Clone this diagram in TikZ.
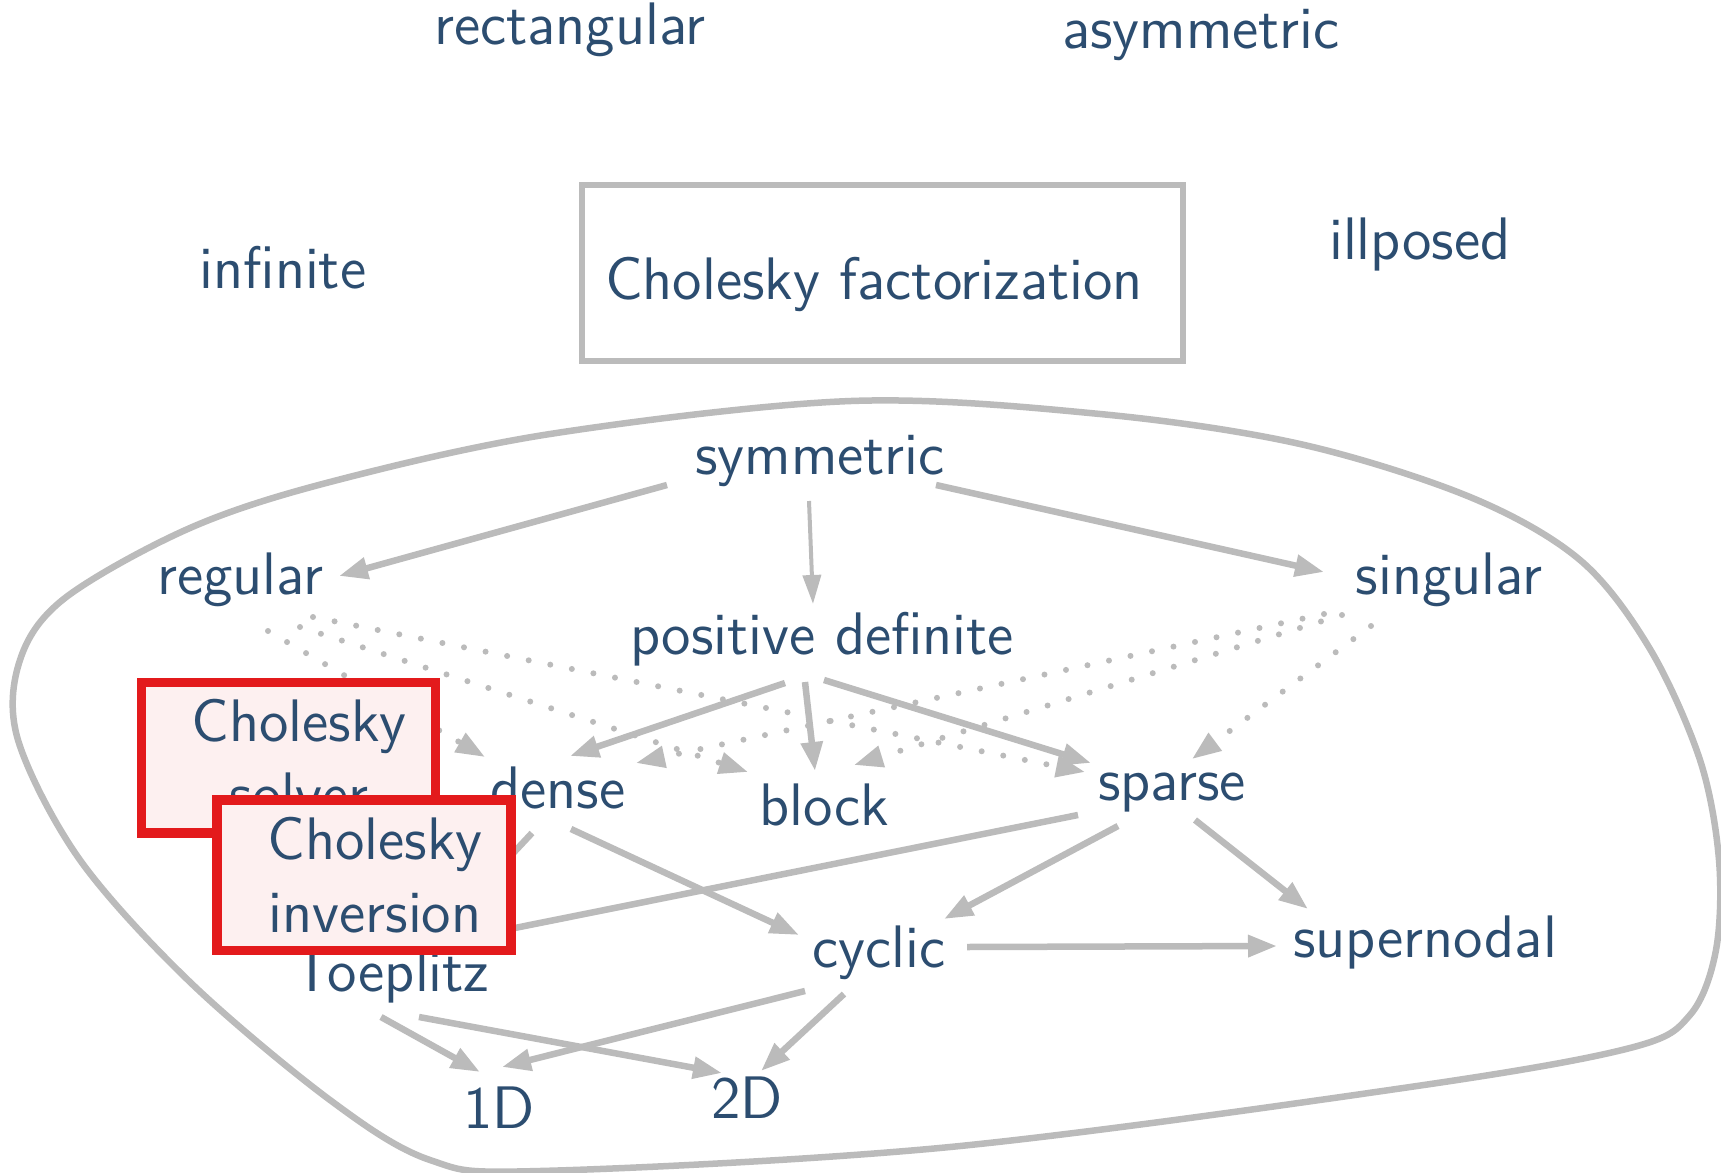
\documentclass[tikz,border=0pt]{standalone}
\usetikzlibrary{arrows.meta}
\definecolor{txt}{HTML}{2C4D70}
\definecolor{edgegray}{HTML}{BBBBBB}
\definecolor{boxred}{HTML}{E31A1C}
\definecolor{boxfill}{HTML}{FDF0F0}
\begin{document}
\begin{tikzpicture}[x=0.2pt,y=-0.2pt,
  lbl/.style={font=\sffamily\fontsize{12}{14.6}\selectfont, text=txt, inner sep=0pt, anchor=base},
  edge/.style={draw=edgegray, line width=1.3pt, -{Triangle[length=5.8pt,width=4.2pt]}},
  thinedge/.style={draw=edgegray, line width=0.8pt, -{Triangle[length=5.8pt,width=3.6pt]}},
  dotedge/.style={draw=edgegray, line width=1.2pt, line cap=round, dash pattern=on 0pt off 4.4pt, -{Triangle[length=5.8pt,width=4.2pt]}},
  redbox/.style={draw=boxred, fill=boxfill, line width=1.9pt, minimum width=58.8pt, minimum height=30.1pt, inner sep=0pt},
  graybox/.style={draw=edgegray, line width=1.2pt, minimum width=120.2pt, minimum height=35.2pt, inner sep=0pt},
]
\useasboundingbox (0,0) rectangle (1721,1173);
% enclosing blob
\draw[edgegray, line width=1.3pt] plot[smooth cycle, tension=0.55] coordinates {
 (851,401) (1100,414) (1300,444) (1470,497) (1580,560) (1650,649) (1700,760)
 (1719,860) (1716,950) (1690,1015) (1630,1048) (1417,1086) (950,1147) (540,1171)
 (430,1160) (330,1100) (191,983) (80,860) (18,740) (20,660) (65,598) (190,528)
 (330,482) (550,434)};
% labels
\node[lbl] (rect) at (570,45) {rectangular};
\node[lbl] (asym) at (1201,49) {asymmetric};
\node[lbl] (inf) at (283,288) {infinite};
\node[lbl] (ill) at (1420,259) {illposed};
\node[graybox] (factbox) at (882.5,273) {};
\node[lbl] (fact) at (874,299) {Cholesky factorization};
\node[lbl] (sym) at (820,474) {symmetric};
\node[lbl] (reg) at (240,594) {regular};
\node[lbl] (sing) at (1449,594) {singular};
\node[lbl] (pd) at (822,654) {positive definite};
\node[lbl] (dense) at (558,808) {dense};
\node[lbl] (block) at (824,825) {block};
\node[lbl] (sparse) at (1172,800) {sparse};
\node[lbl] (cyclic) at (879,967) {cyclic};
\node[lbl] (supern) at (1425,957) {supernodal};
\node[lbl] (toep) at (391,991) {Toeplitz};
\node[lbl] (oneD) at (499,1128) {1D};
\node[lbl] (twoD) at (747,1118) {2D};
% solid edges
\draw[edge] ([shift={(-153,11)}]sym.base) -- ([shift={(99,-18)}]reg.base);
\draw[thinedge] ([shift={(-11,27)}]sym.base) -- ([shift={(-9,-50)}]pd.base);
\draw[edge] ([shift={(116,11)}]sym.base) -- ([shift={(-125,-22)}]sing.base);
\draw[edge] ([shift={(-37,29)}]pd.base) -- ([shift={(12,-52)}]dense.base);
\draw[edge] ([shift={(-17,28)}]pd.base) -- ([shift={(-9,-54)}]block.base);
\draw[edge] ([shift={(2,26)}]pd.base) -- ([shift={(-81,-37)}]sparse.base);
\draw[edge] ([shift={(13,21)}]dense.base) -- ([shift={(-80,-32)}]cyclic.base);
\draw[edge] ([shift={(-26,25)}]dense.base) -- ([shift={(40,-50)}]toep.base);
\draw[edge] ([shift={(-94,15)}]sparse.base) -- ([shift={(64,-51)}]toep.base);
\draw[edge] ([shift={(-54,26)}]sparse.base) -- ([shift={(65,-48)}]cyclic.base);
\draw[edge] ([shift={(23,20)}]sparse.base) -- ([shift={(-117,-48)}]supern.base);
\draw[edge] ([shift={(88,-20)}]cyclic.base) -- ([shift={(-148,-11)}]supern.base);
\draw[edge] ([shift={(-74,24)}]cyclic.base) -- ([shift={(3,-61)}]oneD.base);
\draw[edge] ([shift={(-35,27)}]cyclic.base) -- ([shift={(14,-47)}]twoD.base);
\draw[edge] ([shift={(-10,26)}]toep.base) -- ([shift={(-19,-56)}]oneD.base);
\draw[edge] ([shift={(28,26)}]toep.base) -- ([shift={(-25,-45)}]twoD.base);
% dotted edges
\draw[dotedge] ([shift={(28,37)}]reg.base) -- ([shift={(-73,-51)}]dense.base);
\draw[dotedge] ([shift={(60,33)}]reg.base) -- ([shift={(-76,-53)}]block.base);
\draw[dotedge] ([shift={(73,23)}]reg.base) -- ([shift={(-87,-28)}]sparse.base);
\draw[dotedge] ([shift={(-78,32)}]sing.base) -- ([shift={(20,-41)}]sparse.base);
\draw[dotedge] ([shift={(-107,21)}]sing.base) -- ([shift={(30,-60)}]block.base);
\draw[dotedge] ([shift={(-125,20)}]sing.base) -- ([shift={(78,-45)}]dense.base);
% red boxes
\node[redbox] (solverbox) at (288.5,757.75) {};
\node[lbl, align=center] (solver) at (299,814.7) {Cholesky\\solver};
\node[redbox] (invbox) at (364,875.25) {};
\node[lbl, align=center] (inv) at (375,932) {Cholesky\\inversion};
\end{tikzpicture}
\end{document}
